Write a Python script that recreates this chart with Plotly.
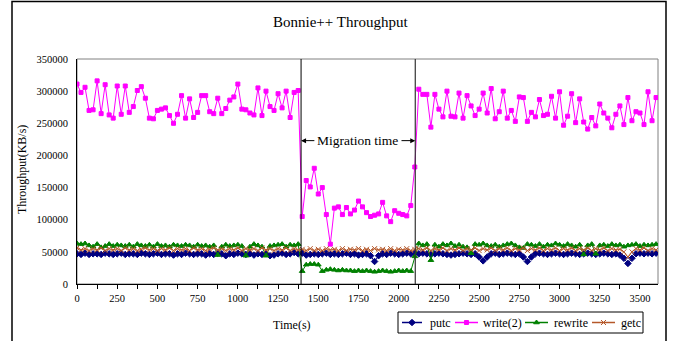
import plotly.graph_objects as go

# Time axis (seconds), one sample every 25 s
time_s = list(range(0, 3601, 25))

# Values in thousands of KB/s
putc_k = [
    47,46,48,46,47,47,46,48,47,46, 47,48,46,47,47,46,48,47,46,47,
    48,46,47,47,45,47,46,48,47,46, 47,47,45,47,46,48,47,44,47,46,
    48,47,46,47,45,47,46,47,44,45, 47,48,46,47,49,47,
    48,45,46,47,46,47,48,46,47,46, 47,48,46,47,45,46,47,44,35,44,
    47,46,48,47,46,47,48,47,48,
    47,48,47,46,47,48,47,46,45,46, 47,48,47,46,47,42,36,42,47,48,
    46,47,48,47,46,47,42,35,42,47, 48,47,46,47,48,47,46,47,48,47,
    46,47,48,47,46,47,48,47,46,47, 45,40,32,40,47,48,47,48,47,48,
]
write2_k = [
    311,298,306,270,271,316,265,310,263,258, 308,264,308,267,276,301,307,289,258,257,
    270,272,274,262,250,264,293,258,288,259, 267,293,293,268,265,289,265,273,286,291,
    311,272,271,266,263,305,262,300,276,270, 296,274,300,259,298,301,
    105,161,151,180,140,150,108,62,118,120, 108,119,109,115,129,120,111,105,107,109,
    127,106,97,114,110,108,106,122,182,
    303,295,295,244,295,272,260,300,261,260, 297,258,293,277,262,272,297,266,304,257,
    268,300,258,270,253,291,290,253,267,260, 287,262,264,292,258,299,247,261,296,251,
    288,252,241,259,246,280,266,258,243,264, 277,248,290,254,268,266,248,299,254,290,
]
rewrite_k = [
    63,62,63,60,58,62,57,59,62,59, 61,60,59,61,58,62,60,59,61,58,
    62,59,60,58,61,60,59,61,60,58, 61,59,60,58,60,45,58,61,59,60,
    61,59,44,58,62,60,58,44,59,60, 61,62,58,61,60,62,
    20,30,31,31,30,20,22,23,22,21, 22,21,21,20,21,20,21,20,19,20,
    21,20,19,20,21,20,21,20,43,
    63,60,62,37,61,58,62,60,63,59, 61,58,57,48,62,61,63,60,59,61,
    58,60,62,63,60,57,56,62,61,59, 62,58,61,60,63,61,59,62,60,58,
    61,46,60,62,47,60,61,59,62,60, 61,58,60,61,62,59,61,60,61,62,
]
getc_k = [
    56,53,55,52,55,53,56,52,55,53, 55,52,56,53,55,52,54,56,53,55,
    52,55,53,56,52,55,53,55,52,56, 53,55,52,54,56,53,55,52,55,53,
    56,52,55,53,55,52,56,53,55,52, 55,53,56,52,55,53,
    54,52,55,52,54,52,55,53,54,52, 55,52,54,53,55,52,54,52,55,53,
    54,52,55,52,54,53,55,52,54,
    55,53,56,52,55,53,56,52,55,53, 56,52,55,53,56,52,55,53,56,52,
    55,53,56,52,55,53,56,52,55,53, 56,52,55,53,56,52,55,53,56,52,
    55,53,56,52,55,53,56,52,55,53, 54,50,42,50,55,53,56,52,55,53,
]

series_names = ["putc", "write(2)", "rewrite", "getc"]
migration_start = 1393
migration_end = 2103
x_ticks = list(range(0, 3501, 250))
y_ticks = list(range(0, 350001, 50000))
y_tick_text = [str(v) for v in y_ticks]

FONT = "Liberation Serif, Times New Roman, serif"

styles = [
    ("#000080", "diamond", 5),
    ("#FF00FF", "square", 4),
    ("#008000", "triangle-up", 5),
    ("#B5582A", "x-thin-open", 5),
]
values = [putc_k, write2_k, rewrite_k, getc_k]

W, H = 680, 341
PL, PR, PT, PB = 77, 658, 59, 284   # plot area in page pixels

def px(xp):
    return xp / W

def py(yp):
    return 1 - yp / H

fig = go.Figure()
for name, vals, (color, sym, size) in zip(series_names, values, styles):
    fig.add_trace(go.Scatter(
        x=time_s, y=[v * 1000 for v in vals], name=name, mode="lines+markers",
        line=dict(color=color, width=1), showlegend=False,
        marker=dict(symbol=sym, size=size, color=color, line=dict(color=color, width=1)),
    ))

# Hand-built legend (layout positions, in page pixels)
leg_box = (398, 643, 312, 333)
leg_y = 322.5
leg_items = [(402, 422, 428), (455, 478, 481), (525, 548, 552), (592, 615, 619)]

shapes = [
    dict(type="rect", xref="paper", yref="paper", x0=px(12), x1=px(666), y0=py(360), y1=py(1.5),
         line=dict(color="black", width=1.5), layer="below"),
    dict(type="rect", xref="paper", yref="paper", x0=px(PL), x1=px(PR), y0=py(PB), y1=py(PT),
         line=dict(color="#808080", width=1), layer="below"),
    dict(type="line", xref="x", yref="y", x0=migration_start, x1=migration_start, y0=0, y1=350000,
         line=dict(color="black", width=1)),
    dict(type="line", xref="x", yref="y", x0=migration_end, x1=migration_end, y0=0, y1=350000,
         line=dict(color="#333333", width=1.2)),
    dict(type="rect", xref="paper", yref="paper", x0=px(leg_box[0]), x1=px(leg_box[1]),
         y0=py(leg_box[3]), y1=py(leg_box[2]), line=dict(color="black", width=1),
         fillcolor="white", layer="below"),
]

def label(text, xp, yp, size, xanchor="center", angle=0):
    return dict(text=text, xref="paper", yref="paper", x=px(xp), y=py(yp),
                xanchor=xanchor, yanchor="middle", showarrow=False, textangle=angle,
                font=dict(family=FONT, size=size, color="black"))

annotations = [
    label("Bonnie++ Throughput", 340, 22, 15),
    label("Throughput(KB/s)", 22, 170, 12, angle=-90),
    label("Time(s)", 292, 325, 12),
    dict(text="Migration time", x=1746, y=223000, showarrow=False,
         xanchor="center", yanchor="middle",
         font=dict(family=FONT, size=13.5, color="black")),
    dict(text="", x=migration_start, y=223000, ax=1485, ay=223000, axref="x", ayref="y",
         showarrow=True, arrowhead=2, arrowsize=1, arrowwidth=1, arrowcolor="black", standoff=0),
    dict(text="", x=migration_end, y=223000, ax=2008, ay=223000, axref="x", ayref="y",
         showarrow=True, arrowhead=2, arrowsize=1, arrowwidth=1, arrowcolor="black", standoff=0),
]

for name, (color, sym, size), (x0, x1, xt) in zip(series_names, styles, leg_items):
    shapes.append(dict(type="line", xref="paper", yref="paper", x0=px(x0), x1=px(x1),
                       y0=py(leg_y), y1=py(leg_y), line=dict(color=color, width=1.5),
                       layer="below"))
    fig.add_trace(go.Scatter(
        x=[(x0 + x1) / 2], y=[leg_y], xaxis="x2", yaxis="y2", mode="markers",
        showlegend=False, hoverinfo="skip",
        marker=dict(symbol=sym, size=size, color=color, line=dict(color=color, width=1)),
    ))
    annotations.append(label(name, xt, leg_y, 12, xanchor="left"))

fig.update_layout(
    width=W, height=H,
    margin=dict(l=0, r=0, t=0, b=0, pad=0, autoexpand=False),
    paper_bgcolor="white", plot_bgcolor="rgba(0,0,0,0)",
    font=dict(family=FONT, size=10.5, color="black"),
    showlegend=False,
    shapes=shapes, annotations=annotations,
    xaxis2=dict(domain=[0, 1], anchor="y2", range=[0, W], visible=False, fixedrange=True),
    yaxis2=dict(domain=[0, 1], anchor="x2", range=[H, 0], visible=False, fixedrange=True),
    xaxis=dict(domain=[px(PL), px(PR)], anchor="y", range=[0, 3612], tickvals=x_ticks,
               ticks="outside", ticklen=4,
               tickcolor="black", showgrid=False, zeroline=False,
               showline=True, linecolor="black", linewidth=1,
               minor=dict(dtick=125, tick0=0, ticks="outside", ticklen=4, tickcolor="black"),
               tickfont=dict(family=FONT, size=10.5)),
    yaxis=dict(domain=[py(PB), py(PT)], anchor="x", range=[0, 350000], tickvals=y_ticks,
               ticktext=y_tick_text, ticks="",
               showgrid=False, zeroline=False,
               showline=True, linecolor="black", linewidth=1, ticklabelstandoff=6,
               tickfont=dict(family=FONT, size=10.5)),
)

fig.write_html("out.html", config={"displayModeBar": False},
               post_script="document.body.style.margin='0px';document.body.style.overflow='hidden';")
